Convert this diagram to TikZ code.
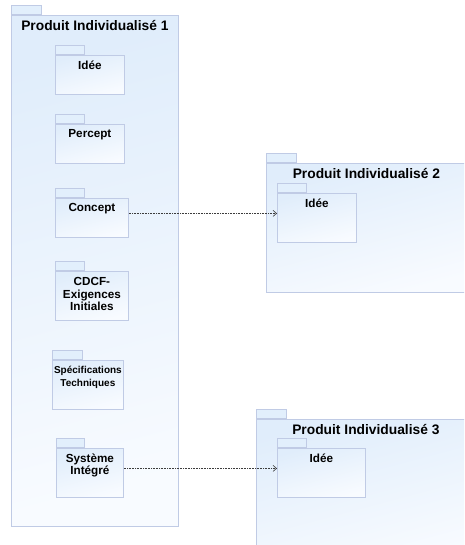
\documentclass[tikz,border=0pt]{standalone}
\usepackage{fontspec}
\setmainfont{Liberation Sans}
\usetikzlibrary{arrows.meta}
\definecolor{pkgline}{RGB}{192,203,229}
\definecolor{pkgtop}{RGB}{224,237,251}
\definecolor{pkgbot}{RGB}{248,251,255}
\definecolor{tabfill}{RGB}{226,239,252}
\definecolor{arrowc}{RGB}{60,60,60}
\tikzset{
  pkgbody/.style={draw=pkgline, line width=0.8pt, top color=pkgtop, bottom color=pkgbot, shading angle=15, inner sep=0pt, anchor=north west},
  pkgtab/.style={draw=pkgline, line width=0.8pt, fill=tabfill, inner sep=0pt, anchor=south west, minimum width=29pt, minimum height=9.5pt},
  ptitle/.style={font=\fontsize{13.8}{16}\selectfont\bfseries, inner sep=0pt, anchor=north},
  plabel/.style={font=\fontsize{11.7}{12.5}\selectfont\bfseries, inner sep=0pt, anchor=north, align=center},
  dep/.style={densely dotted, arrowc, line width=0.6pt, -{Straight Barb[length=3.5pt,width=6pt]}}
}
\begin{document}
\begin{tikzpicture}[x=1pt,y=-1pt]
\useasboundingbox (0,0) rectangle (464,545);
\clip (0,0) rectangle (464,545);
\fill[white] (0,0) rectangle (464,545);
% Package 1
\node[pkgbody, minimum width=167pt, minimum height=511pt] (p1) at (11,15) {};
\node[pkgtab, minimum width=30pt] (t1) at (p1.north west) {};
\node[ptitle] (l1) at ([yshift=-5pt]p1.north) {Produit Individualisé 1};
% inner packages
\node[pkgbody, minimum width=69pt, minimum height=39pt] (a) at (55,55) {};
\node[pkgtab] (ta) at (a.north west) {};
\node[plabel] (la) at ([yshift=-5.5pt]a.north) {Idée};

\node[pkgbody, minimum width=69pt, minimum height=39pt] (b) at (55,124) {};
\node[pkgtab] (tb) at (b.north west) {};
\node[plabel] (lb) at ([yshift=-5.5pt]b.north) {Percept};

\node[pkgbody, minimum width=73pt, minimum height=39pt] (c) at (55,198) {};
\node[pkgtab] (tc) at (c.north west) {};
\node[plabel] (lc) at ([yshift=-5.5pt]c.north) {Concept};

\node[pkgbody, minimum width=73pt, minimum height=49pt] (d) at (55,271) {};
\node[pkgtab] (td) at (d.north west) {};
\node[plabel] (ld) at ([yshift=-6.5pt]d.north) {CDCF-\\Exigences\\Initiales};

\node[pkgbody, minimum width=71pt, minimum height=49pt] (e) at (52,360) {};
\node[pkgtab, minimum width=30pt] (te) at (e.north west) {};
\node[plabel, font=\fontsize{10}{13}\selectfont\bfseries] (le) at ([yshift=-6pt]e.north) {Spécifications\\Techniques};

\node[pkgbody, minimum width=67pt, minimum height=49pt] (f) at (56,448) {};
\node[pkgtab, minimum width=28pt] (tf) at (f.north west) {};
\node[plabel] (lf) at ([yshift=-5.5pt]f.north) {Système\\Intégré};

% Package 2
\node[pkgbody, minimum width=200pt, minimum height=129pt] (p2) at (266,163) {};
\node[pkgtab, minimum width=30pt] (t2) at (p2.north west) {};
\node[ptitle] (l2) at ([yshift=-5pt]p2.north) {Produit Individualisé 2};
\node[pkgbody, minimum width=79pt, minimum height=49pt] (i2) at (277,193) {};
\node[pkgtab] (ti2) at (i2.north west) {};
\node[plabel] (li2) at ([yshift=-5.5pt]i2.north) {Idée};

% Package 3
\node[pkgbody, minimum width=219pt, minimum height=141pt] (p3) at (256,419) {};
\node[pkgtab, minimum width=30pt] (t3) at (p3.north west) {};
\node[ptitle] (l3) at ([yshift=-5pt]p3.north) {Produit Individualisé 3};
\node[pkgbody, minimum width=88pt, minimum height=49pt] (i3) at (277,448) {};
\node[pkgtab] (ti3) at (i3.north west) {};
\node[plabel] (li3) at ([yshift=-5.5pt]i3.north) {Idée};

% dependencies
\draw[dep] ([yshift=4.5pt]c.east) -- ([yshift=4.5pt]i2.west);
\draw[dep] ([yshift=4.5pt]f.east) -- ([yshift=4.5pt]i3.west);
\end{tikzpicture}
\end{document}
